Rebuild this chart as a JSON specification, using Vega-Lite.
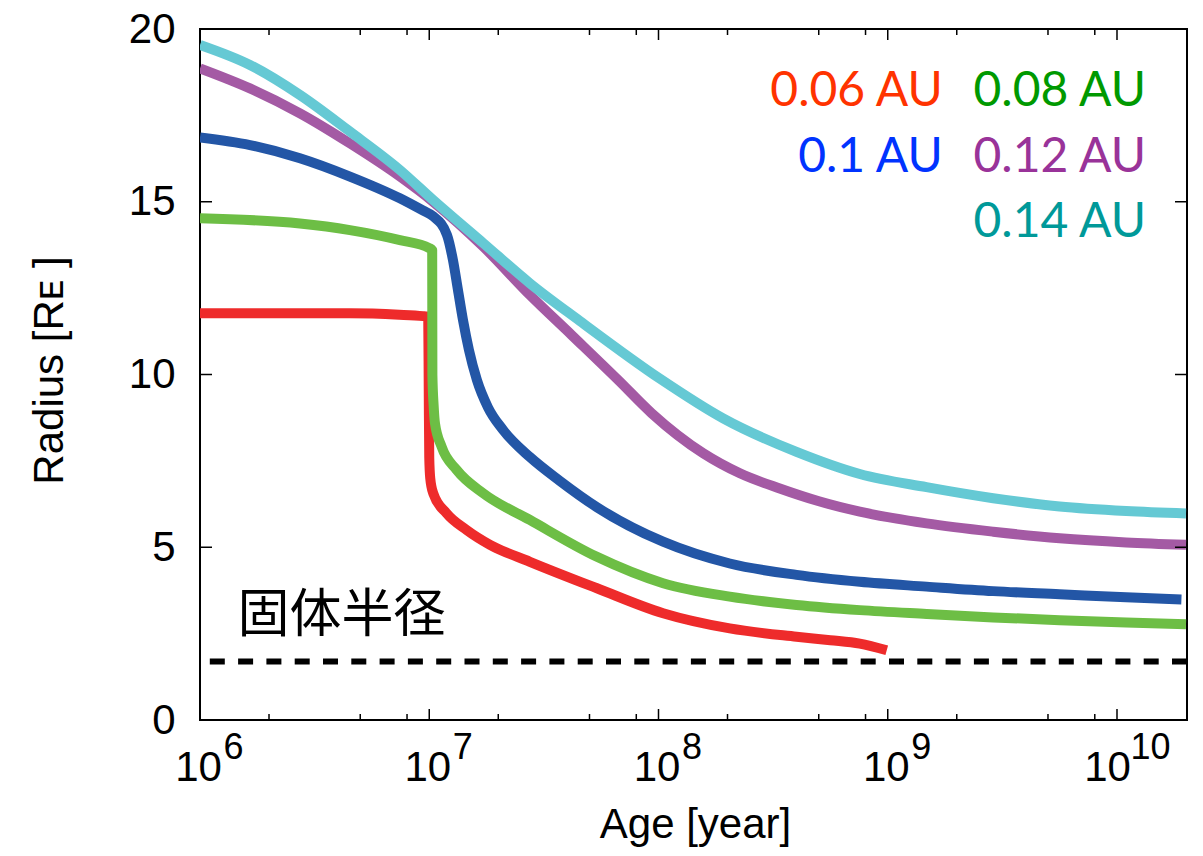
{
  "$schema": "https://vega.github.io/schema/vega-lite/v6.json",
  "width": 987,
  "height": 691,
  "autosize": {"type": "none"},
  "padding": {"left": 200, "top": 29, "right": 16, "bottom": 136},
  "background": "white",
  "config": {
    "view": {"stroke": "#000000", "strokeWidth": 2},
    "font": "Liberation Sans"
  },
  "datasets": {
    "curves": [
      {"series": "0.06 AU", "t": 1e6, "R": 11.77},
      {"series": "0.06 AU", "t": 2e6, "R": 11.77},
      {"series": "0.06 AU", "t": 4.5e6, "R": 11.77},
      {"series": "0.06 AU", "t": 7.4e6, "R": 11.73},
      {"series": "0.06 AU", "t": 9.4e6, "R": 11.69},
      {"series": "0.06 AU", "t": 9.75e6, "R": 11.68},
      {"series": "0.06 AU", "t": 9.9e6, "R": 11.6},
      {"series": "0.06 AU", "t": 9.95e6, "R": 9.5},
      {"series": "0.06 AU", "t": 1.0e7, "R": 7.6},
      {"series": "0.06 AU", "t": 1.01e7, "R": 7.0},
      {"series": "0.06 AU", "t": 1.041e7, "R": 6.56},
      {"series": "0.06 AU", "t": 1.191e7, "R": 5.98},
      {"series": "0.06 AU", "t": 1.455e7, "R": 5.5},
      {"series": "0.06 AU", "t": 1.841e7, "R": 5.07},
      {"series": "0.06 AU", "t": 2.748e7, "R": 4.58},
      {"series": "0.06 AU", "t": 5.358e7, "R": 3.82},
      {"series": "0.06 AU", "t": 1.047e8, "R": 3.09},
      {"series": "0.06 AU", "t": 2.046e8, "R": 2.65},
      {"series": "0.06 AU", "t": 4.0e8, "R": 2.41},
      {"series": "0.06 AU", "t": 5.62e8, "R": 2.31},
      {"series": "0.06 AU", "t": 7.551e8, "R": 2.21},
      {"series": "0.06 AU", "t": 9.9e8, "R": 2.02},

      {"series": "0.08 AU", "t": 1e6, "R": 14.52},
      {"series": "0.08 AU", "t": 2.729e6, "R": 14.37},
      {"series": "0.08 AU", "t": 4.508e6, "R": 14.18},
      {"series": "0.08 AU", "t": 7.447e6, "R": 13.89},
      {"series": "0.08 AU", "t": 1.0e7, "R": 13.66},
      {"series": "0.08 AU", "t": 1.03e7, "R": 13.6},
      {"series": "0.08 AU", "t": 1.032e7, "R": 10.0},
      {"series": "0.08 AU", "t": 1.045e7, "R": 9.1},
      {"series": "0.08 AU", "t": 1.059e7, "R": 8.59},
      {"series": "0.08 AU", "t": 1.132e7, "R": 7.91},
      {"series": "0.08 AU", "t": 1.317e7, "R": 7.24},
      {"series": "0.08 AU", "t": 1.722e7, "R": 6.56},
      {"series": "0.08 AU", "t": 2.748e7, "R": 5.79},
      {"series": "0.08 AU", "t": 5.358e7, "R": 4.73},
      {"series": "0.08 AU", "t": 1.047e8, "R": 3.96},
      {"series": "0.08 AU", "t": 2.046e8, "R": 3.57},
      {"series": "0.08 AU", "t": 4.0e8, "R": 3.33},
      {"series": "0.08 AU", "t": 7.551e8, "R": 3.18},
      {"series": "0.08 AU", "t": 1.476e9, "R": 3.07},
      {"series": "0.08 AU", "t": 2.884e9, "R": 2.97},
      {"series": "0.08 AU", "t": 5.623e9, "R": 2.89},
      {"series": "0.08 AU", "t": 1.096e10, "R": 2.82},
      {"series": "0.08 AU", "t": 2.0e10, "R": 2.77},

      {"series": "0.1 AU", "t": 1e6, "R": 16.86},
      {"series": "0.1 AU", "t": 1.652e6, "R": 16.64},
      {"series": "0.1 AU", "t": 2.729e6, "R": 16.26},
      {"series": "0.1 AU", "t": 4.508e6, "R": 15.73},
      {"series": "0.1 AU", "t": 7.447e6, "R": 15.1},
      {"series": "0.1 AU", "t": 9.419e6, "R": 14.74},
      {"series": "0.1 AU", "t": 1.04e7, "R": 14.58},
      {"series": "0.1 AU", "t": 1.195e7, "R": 14.04},
      {"series": "0.1 AU", "t": 1.269e7, "R": 13.31},
      {"series": "0.1 AU", "t": 1.334e7, "R": 12.45},
      {"series": "0.1 AU", "t": 1.403e7, "R": 11.58},
      {"series": "0.1 AU", "t": 1.49e7, "R": 10.71},
      {"series": "0.1 AU", "t": 1.614e7, "R": 9.84},
      {"series": "0.1 AU", "t": 1.803e7, "R": 9.05},
      {"series": "0.1 AU", "t": 2.096e7, "R": 8.4},
      {"series": "0.1 AU", "t": 2.749e7, "R": 7.61},
      {"series": "0.1 AU", "t": 3.715e7, "R": 6.92},
      {"series": "0.1 AU", "t": 5.387e7, "R": 6.16},
      {"series": "0.1 AU", "t": 1.047e8, "R": 5.16},
      {"series": "0.1 AU", "t": 2.046e8, "R": 4.53},
      {"series": "0.1 AU", "t": 4.0e8, "R": 4.2},
      {"series": "0.1 AU", "t": 7.551e8, "R": 4.0},
      {"series": "0.1 AU", "t": 1.476e9, "R": 3.86},
      {"series": "0.1 AU", "t": 2.884e9, "R": 3.73},
      {"series": "0.1 AU", "t": 5.623e9, "R": 3.64},
      {"series": "0.1 AU", "t": 1.096e10, "R": 3.55},
      {"series": "0.1 AU", "t": 1.91e10, "R": 3.49},

      {"series": "0.12 AU", "t": 1e6, "R": 18.86},
      {"series": "0.12 AU", "t": 1.652e6, "R": 18.28},
      {"series": "0.12 AU", "t": 2.729e6, "R": 17.56},
      {"series": "0.12 AU", "t": 4.508e6, "R": 16.69},
      {"series": "0.12 AU", "t": 7.447e6, "R": 15.73},
      {"series": "0.12 AU", "t": 1.04e7, "R": 15.0},
      {"series": "0.12 AU", "t": 1.722e7, "R": 13.7},
      {"series": "0.12 AU", "t": 2.748e7, "R": 12.3},
      {"series": "0.12 AU", "t": 4.18e7, "R": 11.14},
      {"series": "0.12 AU", "t": 6.67e7, "R": 9.84},
      {"series": "0.12 AU", "t": 9.33e7, "R": 8.88},
      {"series": "0.12 AU", "t": 1.567e8, "R": 7.72},
      {"series": "0.12 AU", "t": 2.265e8, "R": 7.14},
      {"series": "0.12 AU", "t": 3.381e8, "R": 6.7},
      {"series": "0.12 AU", "t": 5.012e8, "R": 6.33},
      {"series": "0.12 AU", "t": 7.551e8, "R": 6.03},
      {"series": "0.12 AU", "t": 1.476e9, "R": 5.69},
      {"series": "0.12 AU", "t": 2.884e9, "R": 5.45},
      {"series": "0.12 AU", "t": 5.623e9, "R": 5.26},
      {"series": "0.12 AU", "t": 1.096e10, "R": 5.14},
      {"series": "0.12 AU", "t": 2.0e10, "R": 5.07},

      {"series": "0.14 AU", "t": 1e6, "R": 19.54},
      {"series": "0.14 AU", "t": 1.652e6, "R": 18.96},
      {"series": "0.14 AU", "t": 2.729e6, "R": 18.09},
      {"series": "0.14 AU", "t": 4.508e6, "R": 17.03},
      {"series": "0.14 AU", "t": 7.447e6, "R": 15.92},
      {"series": "0.14 AU", "t": 1.04e7, "R": 15.05},
      {"series": "0.14 AU", "t": 1.722e7, "R": 13.8},
      {"series": "0.14 AU", "t": 2.748e7, "R": 12.64},
      {"series": "0.14 AU", "t": 4.539e7, "R": 11.55},
      {"series": "0.14 AU", "t": 1.014e8, "R": 9.88},
      {"series": "0.14 AU", "t": 1.914e8, "R": 8.73},
      {"series": "0.14 AU", "t": 4.0e8, "R": 7.76},
      {"series": "0.14 AU", "t": 7.551e8, "R": 7.12},
      {"series": "0.14 AU", "t": 1.476e9, "R": 6.74},
      {"series": "0.14 AU", "t": 2.884e9, "R": 6.42},
      {"series": "0.14 AU", "t": 5.623e9, "R": 6.18},
      {"series": "0.14 AU", "t": 1.096e10, "R": 6.05},
      {"series": "0.14 AU", "t": 2.0e10, "R": 5.98}
    ],
    "legendText": [
      {"series": "0.06 AU", "t": 1.739e9, "R": 17.77},
      {"series": "0.08 AU", "t": 1.339e10, "R": 17.77},
      {"series": "0.1 AU", "t": 1.739e9, "R": 15.87},
      {"series": "0.12 AU", "t": 1.339e10, "R": 15.87},
      {"series": "0.14 AU", "t": 1.339e10, "R": 13.97}
    ],
    "core": [
      {"label": "固体半径", "t": 1.456e6, "R": 2.547, "Rcore": 1.69}
    ],
    "xticks": [
      {"t": 1e6, "kind": "major"}, {"t": 2e6, "kind": "minor"}, {"t": 5e6, "kind": "minor"}, {"t": 8e6, "kind": "minor"},
      {"t": 1e7, "kind": "major"}, {"t": 2e7, "kind": "minor"}, {"t": 5e7, "kind": "minor"}, {"t": 8e7, "kind": "minor"},
      {"t": 1e8, "kind": "major"}, {"t": 2e8, "kind": "minor"}, {"t": 5e8, "kind": "minor"}, {"t": 8e8, "kind": "minor"},
      {"t": 1e9, "kind": "major"}, {"t": 2e9, "kind": "minor"}, {"t": 5e9, "kind": "minor"}, {"t": 8e9, "kind": "minor"},
      {"t": 1e10, "kind": "major"}
    ],
    "yticks": [
      {"R": 0}, {"R": 5}, {"R": 10}, {"R": 15}, {"R": 20}
    ]
  },
  "layer": [
    {
      "data": {"name": "core"},
      "mark": {"type": "rule", "color": "#000000", "strokeWidth": 6, "strokeDash": [15, 13.3]},
      "encoding": {
        "y": {"field": "Rcore", "type": "quantitative", "axis": null}
      }
    },
    {
      "data": {"name": "curves"},
      "mark": {"type": "line", "strokeWidth": 10, "strokeCap": "butt", "strokeJoin": "round", "interpolate": "monotone", "clip": true},
      "encoding": {
        "x": {
          "field": "t", "type": "quantitative",
          "scale": {"type": "log", "domain": [1e6, 2.02e10], "nice": false},
          "axis": {
            "orient": "bottom",
            "values": [1e6, 1e7, 1e8, 1e9, 1e10],
            "domain": false, "grid": false, "ticks": false,
            "labelExpr": "'10'",
            "labelFont": "Liberation Sans", "labelFontSize": 42, "labelColor": "#000000",
            "labelPadding": 27, "labelBaseline": "top", "labelAlign": "center",
            "labelOffset": {"condition": {"test": "datum.value > 5e9", "value": -10}, "value": -2},
            "labelFlush": false, "labelOverlap": false,
            "title": "Age [year]", "titleFont": "Liberation Sans", "titleFontSize": 42, "titleFontWeight": "normal",
            "titleColor": "#000000", "titleX": 495, "titleY": 117, "titleBaseline": "alphabetic", "titleAlign": "center"
          }
        },
        "y": {
          "field": "R", "type": "quantitative",
          "scale": {"domain": [0, 20], "nice": false, "zero": false},
          "axis": {
            "orient": "left",
            "values": [0, 5, 10, 15, 20],
            "domain": false, "grid": false, "ticks": false,
            "labelFont": "Liberation Sans", "labelFontSize": 42, "labelColor": "#000000",
            "labelPadding": 25, "labelFlush": false, "labelOverlap": false,
            "title": "Radius [Rᴇ ]", "titleFont": "Liberation Sans", "titleFontSize": 42, "titleFontWeight": "normal",
            "titleColor": "#000000", "titleX": -138, "titleY": 341, "titleAngle": -90,
            "titleBaseline": "alphabetic", "titleAlign": "center"
          }
        },
        "color": {
          "field": "series", "type": "nominal",
          "scale": {
            "domain": ["0.06 AU", "0.08 AU", "0.1 AU", "0.12 AU", "0.14 AU"],
            "range": ["#EE2B2B", "#6DBE45", "#2356A6", "#A45AA4", "#65C9D4"]
          },
          "legend": null
        }
      }
    },
    {
      "data": {"name": "core"},
      "mark": {"type": "text", "font": "Noto Sans CJK JP", "fontSize": 52, "align": "left", "baseline": "alphabetic", "color": "#000000"},
      "encoding": {
        "x": {
          "field": "t", "type": "quantitative",
          "axis": {
            "orient": "bottom",
            "values": [1e6, 1e7, 1e8, 1e9, 1e10],
            "domain": false, "grid": false, "ticks": false,
            "labelExpr": "format(round(log(datum.value)/LN10), 'd')",
            "labelFont": "Liberation Sans", "labelFontSize": 36, "labelColor": "#000000",
            "labelPadding": 10, "labelBaseline": "top", "labelAlign": "center",
            "labelOffset": 33, "labelFlush": false, "labelOverlap": false,
            "title": null
          }
        },
        "y": {"field": "R", "type": "quantitative", "axis": null},
        "text": {"field": "label"}
      }
    },
    {
      "data": {"name": "legendText"},
      "mark": {"type": "text", "font": "Lato", "fontSize": 48, "align": "right", "baseline": "alphabetic"},
      "encoding": {
        "x": {"field": "t", "type": "quantitative", "axis": null},
        "y": {"field": "R", "type": "quantitative", "axis": null},
        "text": {"field": "series"},
        "color": {
          "field": "series", "type": "nominal",
          "scale": {
            "domain": ["0.06 AU", "0.08 AU", "0.1 AU", "0.12 AU", "0.14 AU"],
            "range": ["#FF3300", "#009900", "#0033FF", "#993399", "#009999"]
          },
          "legend": null
        }
      }
    },
    {
      "data": {"name": "xticks"},
      "mark": {"type": "tick", "orient": "vertical", "thickness": 1.5, "color": "#000000", "opacity": 1, "clip": true},
      "encoding": {
        "x": {"field": "t", "type": "quantitative", "axis": null},
        "y": {"datum": 0, "type": "quantitative", "axis": null},
        "size": {"field": "kind", "type": "nominal", "scale": {"domain": ["major", "minor"], "range": [22, 12]}, "legend": null}
      }
    },
    {
      "data": {"name": "xticks"},
      "mark": {"type": "tick", "orient": "vertical", "thickness": 1.5, "color": "#000000", "opacity": 1, "clip": true},
      "encoding": {
        "x": {"field": "t", "type": "quantitative", "axis": null},
        "y": {"datum": 20, "type": "quantitative", "axis": null},
        "size": {"field": "kind", "type": "nominal", "scale": {"domain": ["major", "minor"], "range": [22, 12]}, "legend": null}
      }
    },
    {
      "data": {"name": "yticks"},
      "mark": {"type": "tick", "orient": "horizontal", "thickness": 1.5, "size": 24, "color": "#000000", "opacity": 1, "clip": true},
      "encoding": {
        "y": {"field": "R", "type": "quantitative", "axis": null},
        "x": {"datum": 1e6, "type": "quantitative", "axis": null}
      }
    },
    {
      "data": {"name": "yticks"},
      "mark": {"type": "tick", "orient": "horizontal", "thickness": 1.5, "size": 24, "color": "#000000", "opacity": 1, "clip": true},
      "encoding": {
        "y": {"field": "R", "type": "quantitative", "axis": null},
        "x": {"datum": 2.02e10, "type": "quantitative", "axis": null}
      }
    }
  ],
  "resolve": {
    "scale": {"color": "independent"},
    "axis": {"x": "independent", "y": "independent"}
  }
}
